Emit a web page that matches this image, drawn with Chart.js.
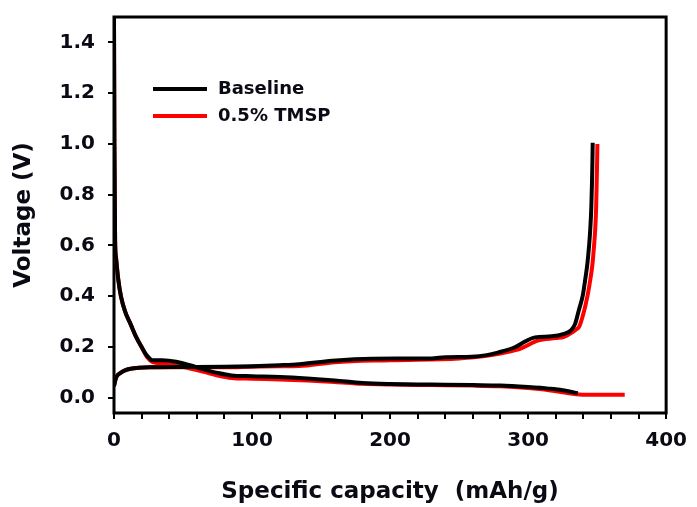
<!DOCTYPE html>
<html>
<head>
<meta charset="utf-8">
<script src="https://cdn.jsdelivr.net/npm/chart.js@4.4.0/dist/chart.umd.min.js"></script>
<style>
  html, body { margin: 0; padding: 0; background: #ffffff; }
  #wrap { width: 697px; height: 507px; }
</style>
</head>
<body>
<div id="wrap"><canvas id="c" width="697" height="507"></canvas></div>
<script>
// Series names
const seriesNames = ['Baseline', '0.5% TMSP'];

// Baseline cell: lithiation (discharge) branch
const baseDisCap = [0, 0.3, 0.8, 1.5, 3, 5, 8, 12, 16, 20, 24, 28, 35, 45, 55, 65, 75, 85, 100, 120, 140, 160, 180, 200, 230, 260, 280, 300, 315, 325, 336];
const baseDisV   = [1.50, 1.00, 0.62, 0.55, 0.47, 0.40, 0.34, 0.29, 0.24, 0.20, 0.165, 0.148, 0.148, 0.142, 0.128, 0.112, 0.098, 0.088, 0.085, 0.082, 0.076, 0.068, 0.058, 0.054, 0.052, 0.050, 0.048, 0.042, 0.036, 0.030, 0.018];

// Baseline cell: delithiation (charge) branch
const baseChgCap = [0, 1, 2, 4.5, 8, 12, 18, 26, 50, 80, 100, 120, 134, 158, 187, 230, 240, 259, 270, 278, 290, 298, 305, 317, 326, 331, 334, 337, 339.5, 341.5, 343, 344.2, 345, 345.8, 346.3, 346.6, 346.8];
const baseChgV   = [0.045, 0.07, 0.085, 0.097, 0.108, 0.114, 0.118, 0.12, 0.121, 0.122, 0.124, 0.128, 0.132, 0.146, 0.154, 0.155, 0.16, 0.162, 0.168, 0.178, 0.198, 0.222, 0.238, 0.242, 0.252, 0.265, 0.29, 0.35, 0.40, 0.47, 0.53, 0.60, 0.66, 0.75, 0.85, 0.93, 1.005];

// 0.5% TMSP cell: lithiation (discharge) branch
const tmspDisCap = [0, 0.3, 0.8, 1.5, 3, 5, 8, 12, 16, 20, 24, 28, 35, 45, 55, 65, 75, 85, 100, 120, 140, 160, 180, 200, 230, 260, 280, 300, 315, 325, 335, 345, 360, 370];
const tmspDisV   = [1.50, 1.00, 0.62, 0.55, 0.47, 0.40, 0.34, 0.29, 0.24, 0.20, 0.16, 0.14, 0.135, 0.128, 0.115, 0.102, 0.088, 0.078, 0.075, 0.072, 0.068, 0.062, 0.055, 0.052, 0.050, 0.048, 0.045, 0.038, 0.030, 0.022, 0.014, 0.012, 0.012, 0.012];

// 0.5% TMSP cell: delithiation (charge) branch
const tmspChgCap = [0, 1, 2, 4.5, 8, 12, 18, 26, 50, 80, 100, 120, 134, 160, 200, 250, 270, 285, 295, 307, 320, 326, 332, 335, 337, 340, 343, 345.2, 346.7, 347.8, 348.6, 349.3, 349.7, 350, 350.2];
const tmspChgV   = [0.045, 0.07, 0.085, 0.097, 0.108, 0.114, 0.118, 0.12, 0.12, 0.12, 0.122, 0.124, 0.125, 0.14, 0.148, 0.155, 0.165, 0.18, 0.195, 0.225, 0.235, 0.24, 0.258, 0.27, 0.28, 0.33, 0.40, 0.47, 0.53, 0.60, 0.66, 0.75, 0.85, 0.93, 1.0];

const toPoints = (xs, ys) => xs.map((x, i) => ({ x: x, y: ys[i] }));

const FONT = 'DejaVu Sans';
const BLACK = '#000000';
const RED = '#ff0000';
const TEXT = '#0a0a14';

const curve = (label, xs, ys, color) => ({
  label: label,
  data: toPoints(xs, ys),
  borderColor: color,
  backgroundColor: color,
  borderWidth: 4,
  pointRadius: 0,
  showLine: true,
  fill: false,
  cubicInterpolationMode: 'monotone',
  borderJoinStyle: 'round'
});

// Plot frame drawn under the curves
const framePlugin = {
  id: 'frame',
  beforeDatasetsDraw(chart) {
    const { ctx, chartArea: a } = chart;
    ctx.save();
    ctx.strokeStyle = BLACK;
    ctx.lineWidth = 3;
    ctx.strokeRect(a.left, a.top, a.right - a.left, a.bottom - a.top);
    ctx.restore();
  }
};

// Legend inside the plot, one entry per series
const legendPlugin = {
  id: 'insideLegend',
  afterDatasetsDraw(chart) {
    const { ctx } = chart;
    const entries = [
      { text: seriesNames[0], color: BLACK, y: 89 },
      { text: seriesNames[1], color: RED, y: 116 }
    ];
    ctx.save();
    entries.forEach(e => {
      ctx.strokeStyle = e.color;
      ctx.lineWidth = 4;
      ctx.beginPath();
      ctx.moveTo(153, e.y);
      ctx.lineTo(207, e.y);
      ctx.stroke();
      ctx.fillStyle = TEXT;
      ctx.font = 'bold 18px "' + FONT + '"';
      ctx.textAlign = 'left';
      ctx.textBaseline = 'middle';
      ctx.fillText(e.text, 218, e.y);
    });
    ctx.restore();
  }
};

new Chart(document.getElementById('c'), {
  type: 'scatter',
  data: {
    datasets: [
      curve(seriesNames[0], baseChgCap, baseChgV, BLACK),
      curve(seriesNames[0], baseDisCap, baseDisV, BLACK),
      curve(seriesNames[1], tmspChgCap, tmspChgV, RED),
      curve(seriesNames[1], tmspDisCap, tmspDisV, RED)
    ]
  },
  options: {
    responsive: false,
    animation: false,
    events: [],
    layout: { padding: { top: 17, right: 28, left: 0, bottom: 0 } },
    plugins: {
      legend: { display: false },
      tooltip: { enabled: false }
    },
    scales: {
      x: {
        type: 'linear',
        min: 0,
        max: 400,
        afterFit(scale) { scale.height = 94; },
        border: { display: false },
        grid: {
          drawOnChartArea: false,
          drawTicks: true,
          tickLength: 6,
          color: BLACK,
          lineWidth: 2
        },
        ticks: {
          stepSize: 20,
          autoSkip: false,
          maxRotation: 0,
          padding: 10,
          color: TEXT,
          font: { family: FONT, size: 20, weight: 'bold' },
          callback: v => (v % 100 === 0 ? String(v) : '')
        },
        title: {
          display: true,
          text: 'Specific capacity  (mAh/g)',
          color: TEXT,
          font: { family: FONT, size: 23, weight: 'bold' },
          padding: { top: 0, bottom: 1 }
        }
      },
      y: {
        type: 'linear',
        min: -0.06,
        max: 1.5,
        afterFit(scale) {
          scale.width = 114;
          scale.paddingTop = 0;
          scale.paddingBottom = 0;
        },
        border: { display: false },
        grid: {
          drawOnChartArea: false,
          drawTicks: true,
          tickLength: 6,
          color: BLACK,
          lineWidth: 2
        },
        ticks: {
          stepSize: 0.2,
          includeBounds: false,
          padding: 13,
          color: TEXT,
          font: { family: FONT, size: 20, weight: 'bold' },
          callback: v => v.toFixed(1)
        },
        title: {
          display: true,
          text: 'Voltage (V)',
          color: TEXT,
          font: { family: FONT, size: 23, weight: 'bold' },
          padding: { top: 10, bottom: 0 }
        }
      }
    }
  },
  plugins: [framePlugin, legendPlugin]
});
</script>
</body>
</html>
